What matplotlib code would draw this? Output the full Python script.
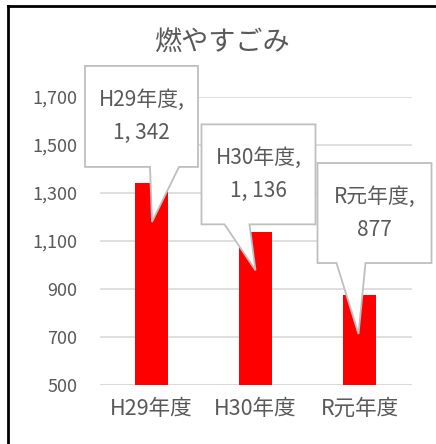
import numpy as np
import matplotlib.pyplot as plt
from matplotlib.patches import Polygon
from matplotlib.lines import Line2D

plt.rcParams['font.family'] = ['Noto Sans CJK JP', 'DejaVu Sans']

title = "燃やすごみ"
categories = ["H29年度", "H30年度", "R元年度"]
values = [1342, 1136, 877]
value_labels = ["1, 342", "1, 136", "877"]
yticks = [500, 700, 900, 1100, 1300, 1500, 1700]

gray = "#595959"

fig = plt.figure(figsize=(4.36, 4.44), dpi=100)
ax = fig.add_axes([99.5 / 436, 59 / 444, 312 / 436, 288 / 444])

x = np.arange(len(categories))
ax.bar(x, values, width=0.32, color="#ff0000", zorder=2)
ax.set_xlim(-0.5, len(categories) - 0.5)
ax.set_ylim(500, 1700)
ax.set_yticks(yticks)
ax.set_yticklabels([f"{v:,}" for v in yticks], fontsize=13, color=gray)
ax.set_xticks(x)
ax.set_xticklabels(categories, fontsize=15.5, color=gray)
ax.tick_params(axis="y", length=0, pad=16)
ax.tick_params(axis="x", length=0, pad=9)
ax.grid(axis="y", color="#d9d9d9", linewidth=1.2, zorder=0)
ax.set_axisbelow(True)
for s in ax.spines.values():
    s.set_visible(False)
ax.axhline(500, color="#d9d9d9", linewidth=1.5, zorder=1)

fig.text(0.51, 1 - 43 / 444, title, ha="center", va="center", fontsize=19.5, color=gray)

# callout layout: box (left, right, top, bottom) and tail (base left, base right, tip)
# offsets in pixels relative to bar top, y pointing down
callouts = [
    dict(box=(-66.5, 46.5, -117, -16), tail=(-1.5, 27.5, 0.5, 39)),
    dict(box=(-54, 60, -108, -8), tail=(-31, -6, 0, 38)),
    dict(box=(-42, 72, -131.5, -31.5), tail=(-23, 6, -1, 39.5)),
]

fig.canvas.draw()
H = 444
for i, (v, c) in enumerate(zip(values, callouts)):
    px, py = ax.transData.transform((x[i], v))
    py = H - py  # to top-down pixels
    l, r, t, b = c["box"]
    tl, tr, tx, ty = c["tail"]
    pts = [(l, t), (r, t), (r, b), (tr, b), (tx, ty), (tl, b), (l, b)]
    pts = [((px + a) / 436, (H - (py + d)) / H) for a, d in pts]
    poly = Polygon(pts, closed=True, transform=fig.transFigure, facecolor="white",
                   edgecolor="#bfbfbf", linewidth=1.3, zorder=5)
    fig.patches.append(poly)
    cx = px + (l + r) / 2
    cy = py + (t + b) / 2
    fig.text(cx / 436, (H - (cy - 16)) / H, categories[i] + ",", ha="center", va="center",
             fontsize=15, color=gray, zorder=6)
    fig.text(cx / 436, (H - (cy + 17)) / H, value_labels[i], ha="center", va="center",
             fontsize=15, color=gray, zorder=6)

# outer frame (left and top edges visible)
fig.add_artist(Line2D([8 / 436, 8 / 436], [0, 1 - 6 / 444], transform=fig.transFigure,
                      color="black", linewidth=2))
fig.add_artist(Line2D([8 / 436, 1], [1 - 6 / 444, 1 - 6 / 444], transform=fig.transFigure,
                      color="black", linewidth=2))

fig.savefig("out.png", dpi=100)
